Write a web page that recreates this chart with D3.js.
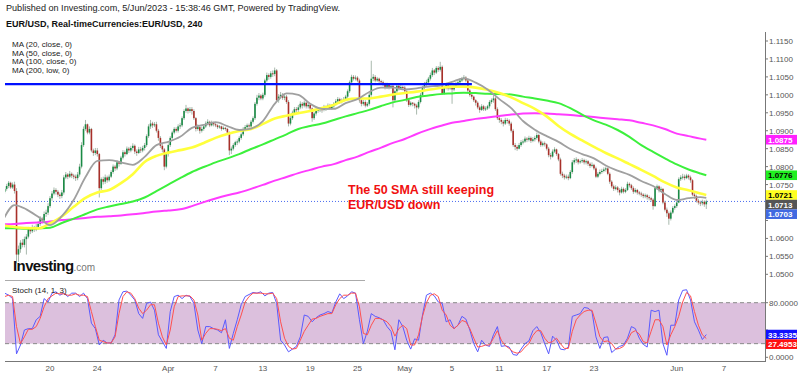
<!DOCTYPE html>
<html>
<head>
<meta charset="utf-8">
<script src="https://cdn.jsdelivr.net/npm/d3@7"></script>
<style>
  body { margin: 0; background: #fff; }
  svg { display: block; font-family: Arial, "Liberation Sans", sans-serif; }
</style>
</head>
<body>
<svg id="chart" width="800" height="376"></svg>
<script>
// EUR/USD 4H candles, 14 Mar – 5 Jun 2023, with 4 SMAs and Stoch(14,1,3).

const FIRST_OPEN = 1.0730;
// one row per trading day (6 x 4H bars), first row starts at the 2nd bar of 14 Mar
const CLOSES = [
  1.0738, 1.0746, 1.0755, 1.0742, 1.0750,
  1.0732, 1.0555, 1.0570, 1.0588, 1.0582, 1.0598,
  1.0605, 1.0625, 1.0620, 1.0630, 1.0625, 1.0632,
  1.0640, 1.0655, 1.0650, 1.0668, 1.0672, 1.0690,
  1.0712, 1.0725, 1.0735, 1.0730, 1.0722, 1.0718,
  1.0728, 1.0770, 1.0778, 1.0772, 1.0780, 1.0775,
  1.0772, 1.0768, 1.0778, 1.0800, 1.0860, 1.0905,
  1.0918, 1.0895, 1.0905, 1.0845, 1.0838, 1.0845,
  1.0835, 1.0740, 1.0765, 1.0758, 1.0770, 1.0762,
  1.0772, 1.0785, 1.0800, 1.0795, 1.0812, 1.0808,
  1.0825, 1.0840, 1.0835, 1.0850, 1.0845, 1.0852,
  1.0858, 1.0842, 1.0838, 1.0848, 1.0845, 1.0852,
  1.0860, 1.0885, 1.0912, 1.0920, 1.0915, 1.0918,
  1.0900, 1.0880, 1.0858, 1.0848, 1.0800, 1.0835,
  1.0860, 1.0880, 1.0895, 1.0905, 1.0900, 1.0912,
  1.0915, 1.0935, 1.0955, 1.0962, 1.0955, 1.0960,
  1.0955, 1.0935, 1.0905, 1.0910, 1.0900, 1.0905,
  1.0912, 1.0920, 1.0925, 1.0915, 1.0922, 1.0918,
  1.0915, 1.0910, 1.0912, 1.0905, 1.0908, 1.0905,
  1.0895, 1.0845, 1.0850, 1.0860, 1.0868, 1.0870,
  1.0880, 1.0890, 1.0905, 1.0910, 1.0915, 1.0912,
  1.0925, 1.0935, 1.0975, 1.0992, 1.0998, 1.0990,
  1.1000, 1.1040, 1.1055, 1.1050, 1.1060, 1.1058,
  1.1068, 1.0985, 1.0995, 1.1000, 1.0992, 1.0995,
  1.0980, 1.0920, 1.0935, 1.0950, 1.0960, 1.0958,
  1.0965, 1.0975, 1.0970, 1.0978, 1.0968, 1.0972,
  1.0962, 1.0935, 1.0948, 1.0955, 1.0958, 1.0960,
  1.0958, 1.0965, 1.0960, 1.0970, 1.0962, 1.0968,
  1.0975, 1.0982, 1.0988, 1.0980, 1.0985, 1.0988,
  1.0995, 1.1010, 1.1035, 1.1050, 1.1045, 1.1048,
  1.1040, 1.0985, 1.0975, 1.0980, 1.0970, 1.0975,
  1.1000, 1.1045, 1.1050, 1.1040, 1.1045, 1.1038,
  1.1035, 1.1030, 1.1020, 1.1028, 1.1022, 1.1025,
  1.0985, 1.1010, 1.1025, 1.1018, 1.1022, 1.1020,
  1.1010, 1.0985, 1.0972, 1.0978, 1.0975, 1.0970,
  1.0965, 1.0980, 1.1000, 1.1020, 1.1030, 1.1035,
  1.1045, 1.1055, 1.1068, 1.1062, 1.1075, 1.1070,
  1.1078, 1.1005, 1.1020, 1.1028, 1.1018, 1.1022,
  1.1015, 1.1025, 1.1030, 1.1035, 1.1040, 1.1045,
  1.1048, 1.1040, 1.1012, 1.1000, 1.0995, 1.0985,
  1.0978, 1.0965, 1.0958, 1.0968, 1.0960, 1.0962,
  1.0968, 1.0980, 1.0985, 1.0990, 1.0960, 1.0935,
  1.0930, 1.0925, 1.0920, 1.0930, 1.0928, 1.0920,
  1.0900, 1.0860, 1.0855, 1.0850, 1.0860, 1.0868,
  1.0870, 1.0878, 1.0875, 1.0880, 1.0872, 1.0876,
  1.0880, 1.0888, 1.0870, 1.0860, 1.0865, 1.0862,
  1.0850, 1.0832, 1.0828, 1.0842, 1.0848, 1.0835,
  1.0820, 1.0780, 1.0775, 1.0770, 1.0772, 1.0768,
  1.0785, 1.0812, 1.0818, 1.0820, 1.0812, 1.0815,
  1.0818, 1.0812, 1.0815, 1.0808, 1.0802, 1.0805,
  1.0795, 1.0772, 1.0780, 1.0785, 1.0788, 1.0792,
  1.0795, 1.0780, 1.0758, 1.0745, 1.0738, 1.0742,
  1.0735, 1.0728, 1.0738, 1.0730, 1.0735, 1.0752,
  1.0748, 1.0740, 1.0730, 1.0735, 1.0728, 1.0725,
  1.0722, 1.0718, 1.0720, 1.0715, 1.0712, 1.0708,
  1.0690, 1.0740, 1.0745, 1.0735, 1.0738, 1.0700,
  1.0680, 1.0670, 1.0655, 1.0672, 1.0685, 1.0690,
  1.0700, 1.0765, 1.0770, 1.0772, 1.0768, 1.0775,
  1.0770, 1.0762, 1.0722, 1.0718, 1.0705, 1.0700,
  1.0698, 1.0702, 1.0695, 1.0703
];
const HIGHS = [
  1.0745, 1.0752, 1.0760, 1.0758, 1.0756,
  1.0758, 1.0740, 1.0580, 1.0595, 1.0598, 1.0605,
  1.0612, 1.0632, 1.0630, 1.0638, 1.0635, 1.0640,
  1.0648, 1.0662, 1.0660, 1.0675, 1.0680, 1.0698,
  1.0718, 1.0732, 1.0742, 1.0740, 1.0735, 1.0728,
  1.0735, 1.0776, 1.0785, 1.0782, 1.0788, 1.0784,
  1.0780, 1.0778, 1.0785, 1.0808, 1.0868, 1.0912,
  1.0930, 1.0920, 1.0912, 1.0908, 1.0850, 1.0852,
  1.0852, 1.0838, 1.0770, 1.0772, 1.0778, 1.0775,
  1.0778, 1.0790, 1.0806, 1.0805, 1.0818, 1.0815,
  1.0830, 1.0846, 1.0845, 1.0856, 1.0855, 1.0858,
  1.0865, 1.0862, 1.0848, 1.0855, 1.0855, 1.0858,
  1.0866, 1.0890, 1.0918, 1.0930, 1.0925, 1.0924,
  1.0925, 1.0905, 1.0885, 1.0865, 1.0852, 1.0840,
  1.0865, 1.0885, 1.0900, 1.0910, 1.0910, 1.0918,
  1.0922, 1.0940, 1.0960, 1.0972, 1.0965, 1.0966,
  1.0966, 1.0960, 1.0938, 1.0918, 1.0915, 1.0912,
  1.0918, 1.0926, 1.0932, 1.0928, 1.0928, 1.0925,
  1.0922, 1.0918, 1.0916, 1.0914, 1.0912, 1.0910,
  1.0908, 1.0898, 1.0856, 1.0865, 1.0872, 1.0876,
  1.0885, 1.0895, 1.0910, 1.0916, 1.0920, 1.0920,
  1.0930, 1.0940, 1.0980, 1.1000, 1.1005, 1.1002,
  1.1006, 1.1045, 1.1062, 1.1060, 1.1066, 1.1068,
  1.1076, 1.1072, 1.1002, 1.1008, 1.1005, 1.1002,
  1.1000, 1.0985, 1.0942, 1.0956, 1.0966, 1.0966,
  1.0972, 1.0982, 1.0980, 1.0984, 1.0980, 1.0978,
  1.0976, 1.0965, 1.0952, 1.0962, 1.0964, 1.0966,
  1.0966, 1.0972, 1.0970, 1.0976, 1.0975, 1.0974,
  1.0980, 1.0988, 1.0994, 1.0992, 1.0990, 1.0994,
  1.1000, 1.1015, 1.1040, 1.1056, 1.1055, 1.1054,
  1.1052, 1.1045, 1.0990, 1.0986, 1.0985, 1.0980,
  1.1005, 1.1095, 1.1058, 1.1055, 1.1050, 1.1048,
  1.1042, 1.1040, 1.1034, 1.1034, 1.1030, 1.1030,
  1.1028, 1.1015, 1.1030, 1.1028, 1.1028, 1.1026,
  1.1025, 1.1014, 1.0990, 1.0982, 1.0980, 1.0978,
  1.0975, 1.0985, 1.1005, 1.1025, 1.1036, 1.1042,
  1.1050, 1.1062, 1.1075, 1.1072, 1.1080, 1.1080,
  1.1092, 1.1082, 1.1025, 1.1034, 1.1032, 1.1028,
  1.1026, 1.1030, 1.1036, 1.1042, 1.1046, 1.1050,
  1.1055, 1.1052, 1.1044, 1.1016, 1.1005, 1.0998,
  1.0988, 1.0982, 1.0970, 1.0974, 1.0972, 1.0968,
  1.0972, 1.0985, 1.0990, 1.1000, 1.0994, 1.0965,
  1.0940, 1.0935, 1.0930, 1.0936, 1.0935, 1.0932,
  1.0925, 1.0905, 1.0866, 1.0860, 1.0866, 1.0874,
  1.0876, 1.0884, 1.0882, 1.0886, 1.0884, 1.0882,
  1.0886, 1.0895, 1.0892, 1.0875, 1.0870, 1.0870,
  1.0865, 1.0855, 1.0838, 1.0848, 1.0854, 1.0850,
  1.0838, 1.0825, 1.0786, 1.0780, 1.0778, 1.0778,
  1.0790, 1.0818, 1.0824, 1.0826, 1.0822, 1.0820,
  1.0824, 1.0822, 1.0820, 1.0818, 1.0812, 1.0812,
  1.0808, 1.0800, 1.0785, 1.0792, 1.0794, 1.0798,
  1.0800, 1.0798, 1.0784, 1.0762, 1.0750, 1.0748,
  1.0746, 1.0740, 1.0744, 1.0742, 1.0740, 1.0758,
  1.0756, 1.0752, 1.0745, 1.0740, 1.0738, 1.0732,
  1.0730, 1.0726, 1.0725, 1.0724, 1.0720, 1.0716,
  1.0712, 1.0745, 1.0750, 1.0748, 1.0744, 1.0740,
  1.0705, 1.0686, 1.0675, 1.0678, 1.0690, 1.0695,
  1.0705, 1.0770, 1.0776, 1.0780, 1.0778, 1.0780,
  1.0779, 1.0775, 1.0765, 1.0728, 1.0722, 1.0710,
  1.0705, 1.0708, 1.0706, 1.0708
];
const LOWS = [
  1.0725, 1.0733, 1.0740, 1.0738, 1.0738,
  1.0725, 1.0530, 1.0535, 1.0560, 1.0575, 1.0575,
  1.0555, 1.0600, 1.0612, 1.0615, 1.0618, 1.0620,
  1.0625, 1.0635, 1.0642, 1.0645, 1.0660, 1.0665,
  1.0685, 1.0705, 1.0720, 1.0722, 1.0715, 1.0710,
  1.0712, 1.0722, 1.0765, 1.0765, 1.0768, 1.0768,
  1.0765, 1.0760, 1.0762, 1.0772, 1.0795, 1.0855,
  1.0900, 1.0890, 1.0890, 1.0840, 1.0830, 1.0832,
  1.0828, 1.0714, 1.0735, 1.0750, 1.0752, 1.0755,
  1.0758, 1.0768, 1.0780, 1.0788, 1.0790, 1.0800,
  1.0805, 1.0820, 1.0828, 1.0832, 1.0838, 1.0840,
  1.0845, 1.0835, 1.0830, 1.0835, 1.0838, 1.0840,
  1.0845, 1.0855, 1.0880, 1.0905, 1.0908, 1.0910,
  1.0895, 1.0872, 1.0852, 1.0840, 1.0790, 1.0795,
  1.0828, 1.0855, 1.0875, 1.0890, 1.0895, 1.0895,
  1.0905, 1.0910, 1.0930, 1.0950, 1.0948, 1.0950,
  1.0945, 1.0930, 1.0898, 1.0900, 1.0892, 1.0895,
  1.0900, 1.0908, 1.0915, 1.0910, 1.0912, 1.0912,
  1.0910, 1.0905, 1.0906, 1.0900, 1.0902, 1.0900,
  1.0888, 1.0832, 1.0835, 1.0845, 1.0855, 1.0860,
  1.0865, 1.0875, 1.0885, 1.0900, 1.0905, 1.0905,
  1.0908, 1.0920, 1.0930, 1.0970, 1.0985, 1.0985,
  1.0985, 1.0995, 1.1035, 1.1042, 1.1045, 1.1050,
  1.1052, 1.0980, 1.0978, 1.0988, 1.0986, 1.0985,
  1.0975, 1.0912, 1.0915, 1.0930, 1.0945, 1.0950,
  1.0950, 1.0960, 1.0962, 1.0965, 1.0962, 1.0962,
  1.0955, 1.0925, 1.0930, 1.0942, 1.0950, 1.0952,
  1.0950, 1.0954, 1.0955, 1.0958, 1.0958, 1.0958,
  1.0962, 1.0970, 1.0978, 1.0975, 1.0976, 1.0980,
  1.0984, 1.0990, 1.1005, 1.1030, 1.1040, 1.1040,
  1.1035, 1.0978, 1.0968, 1.0970, 1.0965, 1.0966,
  1.0970, 1.0995, 1.1038, 1.1035, 1.1036, 1.1032,
  1.1028, 1.1024, 1.1015, 1.1016, 1.1015, 1.1018,
  1.0965, 1.0980, 1.1005, 1.1012, 1.1014, 1.1014,
  1.1005, 1.0980, 1.0966, 1.0968, 1.0968, 1.0962,
  1.0945, 1.0960, 1.0976, 1.0995, 1.1015, 1.1025,
  1.1030, 1.1040, 1.1050, 1.1055, 1.1058, 1.1064,
  1.1065, 1.1000, 1.1000, 1.1015, 1.1012, 1.1014,
  1.0975, 1.1010, 1.1020, 1.1025, 1.1030, 1.1036,
  1.1040, 1.1035, 1.1008, 1.0995, 1.0988, 1.0980,
  1.0970, 1.0960, 1.0950, 1.0955, 1.0955, 1.0955,
  1.0958, 1.0962, 1.0975, 1.0978, 1.0955, 1.0930,
  1.0922, 1.0918, 1.0912, 1.0916, 1.0920, 1.0914,
  1.0895, 1.0855, 1.0846, 1.0844, 1.0848, 1.0855,
  1.0862, 1.0866, 1.0868, 1.0870, 1.0866, 1.0868,
  1.0870, 1.0875, 1.0865, 1.0855, 1.0856, 1.0856,
  1.0845, 1.0826, 1.0820, 1.0825, 1.0838, 1.0830,
  1.0815, 1.0775, 1.0768, 1.0764, 1.0765, 1.0762,
  1.0765, 1.0780, 1.0806, 1.0810, 1.0806, 1.0808,
  1.0810, 1.0806, 1.0806, 1.0802, 1.0796, 1.0798,
  1.0790, 1.0768, 1.0768, 1.0776, 1.0780, 1.0784,
  1.0786, 1.0776, 1.0752, 1.0740, 1.0732, 1.0734,
  1.0728, 1.0720, 1.0725, 1.0725, 1.0726, 1.0732,
  1.0742, 1.0735, 1.0724, 1.0726, 1.0722, 1.0720,
  1.0716, 1.0712, 1.0712, 1.0708, 1.0706, 1.0702,
  1.0680, 1.0688, 1.0735, 1.0728, 1.0730, 1.0695,
  1.0675, 1.0660, 1.0638, 1.0650, 1.0668, 1.0680,
  1.0685, 1.0698, 1.0760, 1.0764, 1.0762, 1.0765,
  1.0764, 1.0755, 1.0718, 1.0710, 1.0700, 1.0694,
  1.0690, 1.0692, 1.0688, 1.0682
];

// moving averages read at the start of every trading day, last value = last bar
const MA20 = [
  1.0649, 1.0693, 1.0681, 1.0660, 1.0637, 1.0662, 1.0707, 1.0771, 1.0816, 1.0818,
  1.0812, 1.0805, 1.0827, 1.0860, 1.0869, 1.0883, 1.0908, 1.0916, 1.0924, 1.0913,
  1.0902, 1.0906, 1.0927, 1.0975, 1.1004, 1.1000, 1.0975, 1.0961, 1.0961, 1.0977,
  1.0988, 1.1008, 1.1020, 1.1020, 1.1015, 1.1018, 1.1023, 1.1026, 1.1036, 1.1046,
  1.1034, 1.1015, 1.0988, 1.0963, 1.0927, 1.0903, 1.0885, 1.0869, 1.0849, 1.0835,
  1.0823, 1.0803, 1.0789, 1.0777, 1.0760, 1.0746, 1.0724, 1.0707, 1.0712, 1.0715,
  1.0713
];
const MA50 = [
  1.0636, 1.0632, 1.0629, 1.0628, 1.0642, 1.0661, 1.0688, 1.0713, 1.0728, 1.0735,
  1.0754, 1.0779, 1.0813, 1.0830, 1.0839, 1.0846, 1.0853, 1.0866, 1.0880, 1.0891,
  1.0899, 1.0905, 1.0919, 1.0934, 1.0942, 1.0949, 1.0955, 1.0963, 1.0972, 1.0986,
  1.0990, 1.0990, 1.0995, 1.1001, 1.1005, 1.1009, 1.1014, 1.1019, 1.1023, 1.1023,
  1.1020, 1.1014, 1.1005, 1.0993, 1.0977, 1.0961, 1.0940, 1.0913, 1.0891, 1.0873,
  1.0855, 1.0838, 1.0823, 1.0807, 1.0791, 1.0774, 1.0756, 1.0742, 1.0734, 1.0725,
  1.0721
];
const MA100 = [
  1.0628, 1.0628, 1.0627, 1.0628, 1.0630, 1.0643, 1.0655, 1.0668, 1.0681, 1.0689,
  1.0696, 1.0703, 1.0714, 1.0732, 1.0750, 1.0768, 1.0785, 1.0799, 1.0812, 1.0823,
  1.0835, 1.0849, 1.0862, 1.0876, 1.0890, 1.0905, 1.0913, 1.0920, 1.0930, 1.0940,
  1.0949, 1.0958, 1.0969, 1.0979, 1.0986, 1.0994, 1.0998, 1.1002, 1.1004, 1.1006,
  1.1005, 1.1003, 1.1002, 1.1001, 1.0995, 1.0990, 1.0984, 1.0977, 1.0963, 1.0945,
  1.0929, 1.0917, 1.0902, 1.0883, 1.0860, 1.0841, 1.0823, 1.0806, 1.0792, 1.0781,
  1.0776
];
const MA200 = [
  1.0639, 1.0640, 1.0643, 1.0644, 1.0647, 1.0651, 1.0654, 1.0657, 1.0660, 1.0662,
  1.0664, 1.0667, 1.0671, 1.0675, 1.0678, 1.0681, 1.0690, 1.0701, 1.0711, 1.0720,
  1.0728, 1.0738, 1.0749, 1.0761, 1.0771, 1.0782, 1.0791, 1.0800, 1.0807, 1.0818,
  1.0828, 1.0841, 1.0853, 1.0866, 1.0877, 1.0891, 1.0903, 1.0913, 1.0922, 1.0927,
  1.0933, 1.0937, 1.0941, 1.0945, 1.0948, 1.0949, 1.0948, 1.0946, 1.0944, 1.0941,
  1.0938, 1.0935, 1.0932, 1.0929, 1.0922, 1.0915, 1.0905, 1.0892, 1.0885, 1.0878,
  1.0875
];

// Stoch(14,1,3), read every second bar
const STOCH_K = [
  94, 91, 86, 5, 18, 40, 42, 42, 55, 60, 86, 81, 94, 96, 91, 94, 89, 94, 94, 89,
  94, 86, 50, 42, 18, 25, 21, 21, 33, 84, 96, 97, 91, 84, 64, 57, 79, 81, 69, 33,
  23, 13, 67, 89, 91, 86, 91, 89, 79, 40, 20, 45, 45, 42, 40, 36, 55, 13, 35, 55,
  77, 89, 92, 95, 94, 96, 90, 94, 95, 79, 25, 18, 8, 12, 16, 30, 62, 60, 52, 58,
  62, 64, 67, 65, 81, 93, 86, 90, 96, 94, 55, 20, 38, 64, 60, 58, 55, 45, 38, 11,
  55, 45, 25, 12, 27, 25, 62, 91, 94, 90, 81, 79, 52, 55, 42, 47, 60, 56, 40, 20,
  8, 25, 18, 16, 33, 45, 16, 17, 15, 4, 3, 12, 20, 24, 39, 45, 36, 20, 5, 31,
  25, 12, 11, 15, 60, 62, 64, 73, 72, 67, 30, 13, 29, 30, 7, 12, 16, 18, 28, 45,
  42, 28, 19, 15, 69, 67, 69, 20, 3, 47, 47, 84, 98, 99, 84, 52, 40, 26, 33.3335
];
const STOCH_D = [
  89, 91, 89, 45, 20, 30, 41, 41, 45, 57, 74, 86, 90, 94, 93, 93, 91, 91, 93, 91,
  91, 89, 67, 45, 25, 23, 21, 21, 30, 64, 89, 96, 94, 86, 72, 64, 69, 77, 77, 50,
  30, 18, 40, 74, 89, 90, 90, 90, 84, 62, 25, 35, 42, 42, 41, 39, 42, 28, 25, 45,
  62, 81, 89, 94, 94, 94, 93, 93, 94, 86, 52, 28, 16, 12, 13, 25, 38, 47, 56, 57,
  60, 62, 64, 64, 77, 86, 91, 91, 94, 94, 74, 35, 33, 47, 57, 57, 55, 52, 45, 31,
  42, 47, 42, 18, 18, 33, 60, 80, 91, 93, 89, 69, 62, 47, 42, 47, 54, 52, 42, 28,
  15, 16, 18, 18, 28, 39, 25, 17, 13, 8, 6, 8, 15, 20, 32, 39, 39, 28, 21, 23,
  28, 20, 13, 13, 38, 55, 62, 67, 69, 69, 50, 30, 23, 24, 20, 12, 13, 16, 25, 36,
  39, 34, 23, 21, 38, 55, 55, 45, 18, 33, 45, 60, 81, 95, 90, 67, 47, 33, 27.4953
];

const PRICE_TICKS = [1.0500, 1.0550, 1.0600, 1.0650, 1.0700, 1.0750, 1.0800, 1.0850,
                     1.0900, 1.0950, 1.1000, 1.1050, 1.1100, 1.1150];
const STOCH_TICKS = [0, 40, 80];
const X_TICKS = ['20', '24', 'Apr', '7', '13', '19', '25', 'May', '5', '11', '17', '23', 'Jun', '7'];
const X_TICK_DAYS = [4, 8, 14, 18, 22, 26, 30, 34, 38, 42, 46, 50, 57, 61];
const LEVEL = 1.1030;            // drawn horizontal line
const LEVEL_END_DAY = 39;        // it stops around 8 May
const MA_LEGEND = ['MA (20, close, 0)', 'MA (50, close, 0)', 'MA (100, close, 0)', 'MA (200, low, 0)'];
const NOTE = ['The 50 SMA still keeping', 'EUR/USD down'];

const UP = '#1a8a45', DOWN = '#a8302a', WICK = '#a9b9ad';
const AXIS = '#555', RULE = '#777';

const svg = d3.select('#chart');
svg.append('rect').attr('width', 800).attr('height', 376).attr('fill', '#fff');

const N = CLOSES.length;
const barOfDay = d => 6 * d - 1;
const x = d3.scaleLinear().domain([0, N - 1]).range([4.7, 706.3]);
const y = d3.scaleLinear().domain([1.0500, 1.1150]).range([274.3, 41]);
const ys = d3.scaleLinear().domain([0, 80]).range([357.3, 302.7]);
const PLOT_L = 5, PLOT_R = 765;

const defs = svg.append('defs');
defs.append('clipPath').attr('id', 'clipMain').append('rect')
  .attr('x', PLOT_L).attr('y', 30).attr('width', PLOT_R - PLOT_L).attr('height', 250);
defs.append('clipPath').attr('id', 'clipStoch').append('rect')
  .attr('x', PLOT_L).attr('y', 283).attr('width', PLOT_R - PLOT_L).attr('height', 78);

// ---- header ----
svg.append('text').attr('x', 6).attr('y', 11).attr('fill', '#222')
  .style('font-size', '9.1px')
  .text('Published on Investing.com, 5/Jun/2023 - 15:38:46 GMT, Powered by TradingView.');
svg.append('text').attr('x', 6).attr('y', 27).attr('fill', '#111')
  .style('font-size', '9px').style('font-weight', 'bold')
  .text('EUR/USD, Real-timeCurrencies:EUR/USD, 240');
svg.append('g').selectAll('text').data(MA_LEGEND).join('text')
  .attr('x', 12).attr('y', (d, i) => 47 + i * 8.7).attr('fill', '#222')
  .style('font-size', '8px').text(d => d);

// ---- main pane ----
const main = svg.append('g').attr('clip-path', 'url(#clipMain)');

const bars = CLOSES.map((c, i) => ({
  i, c, o: i ? CLOSES[i - 1] : FIRST_OPEN, h: HIGHS[i], l: LOWS[i]
}));

main.append('line')
  .attr('x1', PLOT_L).attr('x2', PLOT_R)
  .attr('y1', y(CLOSES[N - 1])).attr('y2', y(CLOSES[N - 1]))
  .attr('stroke', '#4a6cf0').attr('stroke-width', 1).attr('stroke-dasharray', '1 2');

main.append('g').selectAll('line').data(bars).join('line')
  .attr('x1', d => x(d.i)).attr('x2', d => x(d.i))
  .attr('y1', d => y(d.h)).attr('y2', d => y(d.l))
  .attr('stroke', WICK).attr('stroke-width', 1);
main.append('g').selectAll('rect').data(bars).join('rect')
  .attr('x', d => x(d.i) - 0.8).attr('width', 1.6)
  .attr('y', d => y(Math.max(d.o, d.c)))
  .attr('height', d => Math.max(1, Math.abs(y(d.o) - y(d.c))))
  .attr('fill', d => d.c >= d.o ? UP : DOWN);

const maLine = d3.line()
  .x((d, k, arr) => x(k < arr.length - 1 ? barOfDay(k) : N - 1))
  .y(d => y(d))
  .curve(d3.curveMonotoneX);
const MAS = [
  { v: MA200, c: '#ff3cff', w: 2 },
  { v: MA100, c: '#3cf03c', w: 2 },
  { v: MA50,  c: '#ffff3c', w: 2.6 },
  { v: MA20,  c: '#a0a0a0', w: 1.8 }
];
MAS.forEach(m => {
  main.append('path').datum(m.v)
    .attr('fill', 'none').attr('stroke', m.c).attr('stroke-width', m.w)
    .attr('d', maLine);
});

main.append('line')
  .attr('x1', PLOT_L).attr('x2', x(barOfDay(LEVEL_END_DAY)) + 8)
  .attr('y1', y(LEVEL)).attr('y2', y(LEVEL))
  .attr('stroke', '#0010ff').attr('stroke-width', 2.2);

svg.append('g').selectAll('text').data(NOTE).join('text')
  .attr('x', 348).attr('y', (d, i) => 194 + i * 15)
  .attr('fill', '#f01010').style('font-size', '12.5px').style('font-weight', 'bold')
  .text(d => d);

// Investing logo
const logo = svg.append('text').attr('x', 13).attr('y', 271);
logo.append('tspan').text('Investing').attr('fill', '#111')
  .style('font-size', '15px').style('font-weight', 'bold').style('letter-spacing', '-0.6px');
logo.append('tspan').text('.com').attr('fill', '#777').style('font-size', '10px');

svg.append('line').attr('x1', PLOT_L).attr('x2', 365).attr('y1', 280.5).attr('y2', 280.5)
  .attr('stroke', '#aaa').attr('stroke-width', 1);

// ---- stochastic pane ----
const st = svg.append('g').attr('clip-path', 'url(#clipStoch)');
st.append('rect').attr('x', PLOT_L).attr('width', PLOT_R - PLOT_L)
  .attr('y', ys(80)).attr('height', ys(20) - ys(80)).attr('fill', '#dcc0dd');
[80, 20].forEach(v => st.append('line')
  .attr('x1', PLOT_L).attr('x2', PLOT_R).attr('y1', ys(v)).attr('y2', ys(v))
  .attr('stroke', '#8a8a8a').attr('stroke-dasharray', '4 3').attr('stroke-width', 1));

const stLine = d3.line().x((d, j) => x(2 * j)).y(d => ys(d));
st.append('path').datum(STOCH_K).attr('fill', 'none')
  .attr('stroke', '#5a5aff').attr('stroke-width', 1).attr('d', stLine);
st.append('path').datum(STOCH_D).attr('fill', 'none')
  .attr('stroke', '#ff5050').attr('stroke-width', 1).attr('d', stLine);

svg.append('text').attr('x', 12).attr('y', 293).attr('fill', '#222')
  .style('font-size', '8px').text('Stoch (14, 1, 3)');

// ---- axes ----
svg.append('line').attr('x1', PLOT_L).attr('x2', PLOT_R).attr('y1', 361.5).attr('y2', 361.5)
  .attr('stroke', RULE);
svg.append('line').attr('x1', PLOT_R + 0.5).attr('x2', PLOT_R + 0.5).attr('y1', 32).attr('y2', 362)
  .attr('stroke', RULE);

svg.append('g').selectAll('text').data(X_TICKS).join('text')
  .attr('x', (d, i) => x(barOfDay(X_TICK_DAYS[i]))).attr('y', 371)
  .attr('text-anchor', 'middle').attr('fill', AXIS).style('font-size', '8px')
  .text(d => d);

// value tags on the right, pushed apart when they collide
const TAG_H = 9.6;
function stack(items) {
  items.sort((a, b) => a.y - b.y);
  items.forEach((t, k) => { if (k && t.y < items[k - 1].y + TAG_H) t.y = items[k - 1].y + TAG_H; });
  return items;
}
const last = a => a[a.length - 1];
const mainTags = stack([
  { y: y(last(MA200)), bg: '#ff20ff', fg: '#fff', label: last(MA200).toFixed(4) },
  { y: y(last(MA100)), bg: '#20f020', fg: '#000', label: last(MA100).toFixed(4) },
  { y: y(last(MA50)),  bg: '#ffff20', fg: '#000', label: last(MA50).toFixed(4) },
  { y: y(last(MA20)),  bg: '#555',    fg: '#fff', label: last(MA20).toFixed(4) },
  { y: y(last(CLOSES)), bg: '#4169e1', fg: '#fff', label: last(CLOSES).toFixed(4) }
]);
const stochTags = stack([
  { y: ys(last(STOCH_K)), bg: '#1010ff', fg: '#fff', label: last(STOCH_K).toFixed(4) },
  { y: ys(last(STOCH_D)), bg: '#ff1010', fg: '#fff', label: last(STOCH_D).toFixed(4) }
]);
const allTags = mainTags.concat(stochTags);
const hidden = ty => allTags.some(t => Math.abs(t.y - ty) < TAG_H - 1);

const yAx = svg.append('g');
const tickLabels = PRICE_TICKS.map(p => ({ y: y(p), s: p.toFixed(4) }))
  .concat(STOCH_TICKS.map(v => ({ y: ys(v), s: v.toFixed(4) })));
tickLabels.forEach(t => {
  yAx.append('line').attr('x1', PLOT_R).attr('x2', PLOT_R + 3)
    .attr('y1', t.y).attr('y2', t.y).attr('stroke', RULE);
  if (hidden(t.y)) return;
  yAx.append('text').attr('x', 769).attr('y', t.y + 3)
    .attr('fill', AXIS).style('font-size', '8px').text(t.s);
});

const tagG = svg.append('g');
allTags.forEach(t => {
  tagG.append('rect').attr('x', PLOT_R + 1).attr('y', t.y - TAG_H / 2)
    .attr('width', 31).attr('height', TAG_H).attr('fill', t.bg);
  tagG.append('text').attr('x', PLOT_R + 3).attr('y', t.y + 3)
    .attr('fill', t.fg).style('font-size', '8px').style('font-weight', 'bold')
    .text(t.label);
});
</script>
</body>
</html>
